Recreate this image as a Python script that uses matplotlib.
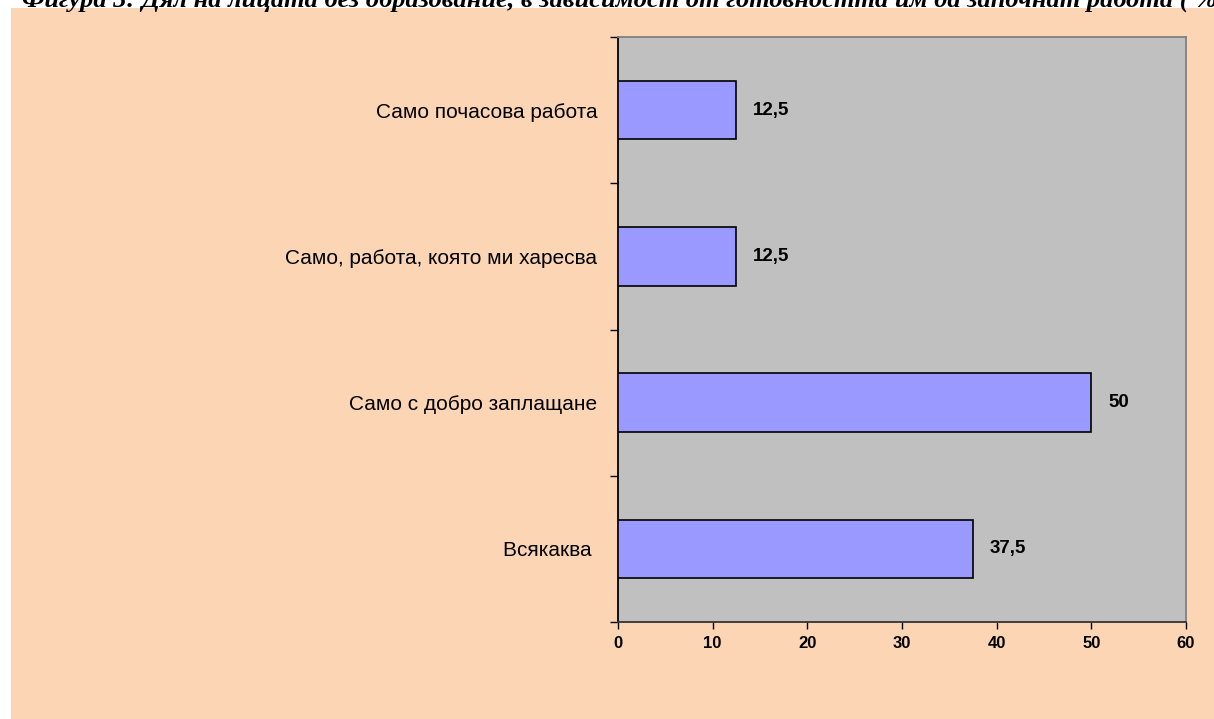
import numpy as np
import matplotlib
matplotlib.use("Agg")
import matplotlib.pyplot as plt
from matplotlib.patches import Rectangle

# data (bottom to top)
categories = ["Всякаква ", "Само с добро заплащане",
              "Само, работа, която ми харесва", "Само почасова работа"]
values = [37.5, 50, 12.5, 12.5]
value_labels = ["37,5", "50", "12,5", "12,5"]
x_ticks = [0, 10, 20, 30, 40, 50, 60]

title = ("Фигура 3: Дял на лицата без образование, в зависимост от "
         "готовността им да започнат работа ( %)")

W, H = 1214, 719
fig = plt.figure(figsize=(W / 100, H / 100), dpi=100)
fig.patch.set_facecolor("white")

# peach chart area behind everything
bg = Rectangle((11 / W, 0), 1 - 11 / W, 1 - 8 / H,
               transform=fig.transFigure, facecolor="#FCD5B4",
               edgecolor="none", linewidth=0, zorder=-10)
fig.add_artist(bg)

fig.text(22 / W, 1 - 7 / H, title, va="baseline", ha="left",
         family="Liberation Serif", weight="bold", style="italic", size=19)

ax = fig.add_axes([618 / W, 1 - 622 / H, (1186 - 618) / W, (622 - 37) / H])
ax.set_zorder(5)
ax.set_facecolor("#C0C0C0")

y = np.arange(len(categories))
ax.barh(y, values, height=0.4, color="#9999FF", edgecolor="black",
        linewidth=1.2, zorder=3)

for yi, v, lab in zip(y, values, value_labels):
    ax.annotate(lab, (v, yi), xytext=(12, 0), textcoords="offset points",
                ha="left", va="center", family="Liberation Sans",
                weight="bold", size=13.5)

ax.set_xlim(0, 60)
ax.set_ylim(-0.5, len(categories) - 0.5)

ax.set_xticks(x_ticks)
ax.set_xticklabels([str(t) for t in x_ticks], family="Liberation Sans",
                   weight="bold", size=12)
ax.tick_params(axis="x", direction="out", length=5, width=1, pad=5,
               colors="black")

# category boundaries as major ticks, labels on minor ticks
ax.set_yticks(np.arange(-0.5, len(categories), 1.0))
ax.set_yticklabels([])
ax.set_yticks(y, minor=True)
ax.set_yticklabels(categories, minor=True, family="Liberation Sans", size=15)
ax.tick_params(axis="y", which="major", direction="out", length=6, width=1)
ax.tick_params(axis="y", which="minor", length=0, pad=15)

ax.spines["left"].set_color("black")
ax.spines["bottom"].set_color("#333333")
ax.spines["top"].set_color("#808080")
ax.spines["right"].set_color("#808080")
for s in ax.spines.values():
    s.set_linewidth(1.3)

fig.savefig("out.png", dpi=100)
